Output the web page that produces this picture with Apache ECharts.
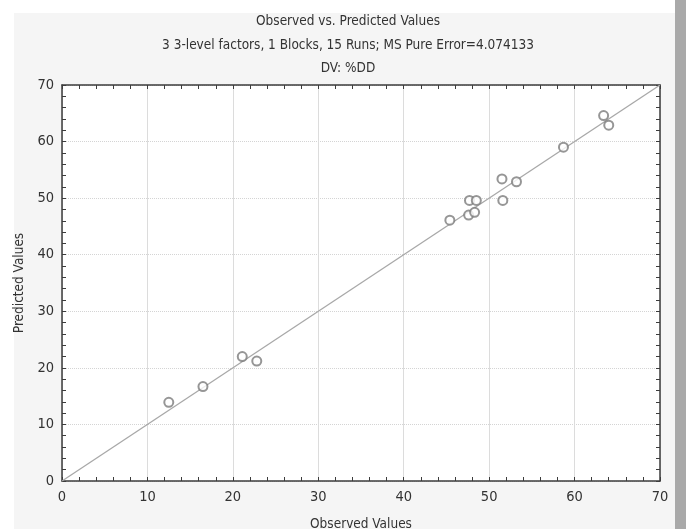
<!DOCTYPE html>
<html>
<head>
<meta charset="utf-8">
<script src="https://cdn.jsdelivr.net/npm/echarts@6/dist/echarts.min.js"></script>
<style>
  html, body { margin: 0; padding: 0; background: #ffffff; }
  #chart { width: 686px; height: 529px; }
</style>
</head>
<body>
<div id="chart"></div>
<script>
// observed vs predicted, %DD, 15 runs
var observed  = [12.5, 16.5, 21.1, 22.8, 45.4, 47.6, 47.7, 48.3, 48.5, 51.5, 51.6, 53.2, 58.7, 63.4, 64.0];
var predicted = [13.9, 16.7, 22.0, 21.2, 46.1, 47.0, 49.6, 47.5, 49.6, 53.4, 49.6, 52.9, 59.0, 64.6, 62.9];
var refLine   = [[0, 0], [70, 70]];

var titleLines = [
    'Observed vs. Predicted Values',
    '3 3-level factors, 1 Blocks, 15 Runs; MS Pure Error=4.074133',
    'DV: %DD'
];

var font = '"Liberation Sans Narrow","DejaVu Sans Condensed","Liberation Sans",Arial,sans-serif';
var textColor = '#333333';
var frameColor = '#3c3c3c';

var points = observed.map(function (v, i) { return [v, predicted[i]]; });

var titleTops = [9, 33, 56];
var titles = titleLines.map(function (t, i) {
    return {
        text: t,
        left: 343,
        top: titleTops[i],
        textAlign: 'center',
        textStyle: { fontFamily: font, fontSize: 13.5, fontWeight: 'normal', color: textColor }
    };
});

function frameAxis(pos) {
    return {
        type: 'value',
        position: pos,
        min: 0, max: 70, interval: 10,
        axisLine: { show: true, onZero: false, lineStyle: { color: frameColor, width: 1.5 } },
        axisTick: { show: true, inside: true, length: 4, lineStyle: { color: frameColor } },
        minorTick: { show: true, splitNumber: 5, length: 4, lineStyle: { color: frameColor } },
        axisLabel: { show: false },
        splitLine: { show: false }
    };
}

var xMain = frameAxis('bottom');
xMain.name = 'Observed Values';
xMain.nameLocation = 'middle';
xMain.nameGap = 36;
xMain.nameTextStyle = { fontFamily: font, fontSize: 13.5, color: textColor };
xMain.axisLabel = { show: true, fontFamily: font, fontSize: 14.5, color: textColor, margin: 9 };
xMain.splitLine = { show: true, lineStyle: { color: '#dcdcdc', width: 1, type: 'solid' } };

var yMain = frameAxis('left');
yMain.name = 'Predicted Values';
yMain.nameLocation = 'middle';
yMain.nameGap = 33;
yMain.nameTextStyle = { fontFamily: font, fontSize: 13.5, color: textColor };
yMain.axisLabel = { show: true, fontFamily: font, fontSize: 14.5, color: textColor, margin: 8 };
yMain.splitLine = { show: true, lineStyle: { color: '#d4d4d4', width: 1, type: [1, 1] } };

var option = {
    backgroundColor: '#ffffff',
    animation: false,
    graphic: [
        { type: 'rect', z: -10, shape: { x: 14, y: 13, width: 661, height: 516 }, style: { fill: '#f5f5f5' } },
        { type: 'rect', z: -10, shape: { x: 675, y: 0, width: 11, height: 529 }, style: { fill: '#a9a9a9' } }
    ],
    title: titles,
    grid: {
        left: 62, right: 26, top: 85, bottom: 48,
        outerBoundsMode: 'none',
        show: true, backgroundColor: '#ffffff', borderWidth: 0
    },
    xAxis: [xMain, frameAxis('top')],
    yAxis: [yMain, frameAxis('right')],
    series: [
        {
            type: 'line',
            data: refLine,
            symbol: 'none',
            lineStyle: { color: '#a8a8a8', width: 1.3 },
            z: 2
        },
        {
            type: 'scatter',
            data: points,
            symbol: 'emptyCircle',
            symbolSize: 9,
            itemStyle: { color: '#7c7c7c', borderWidth: 0.9 },
            z: 3
        }
    ]
};

echarts.init(document.getElementById('chart')).setOption(option);
</script>
</body>
</html>
